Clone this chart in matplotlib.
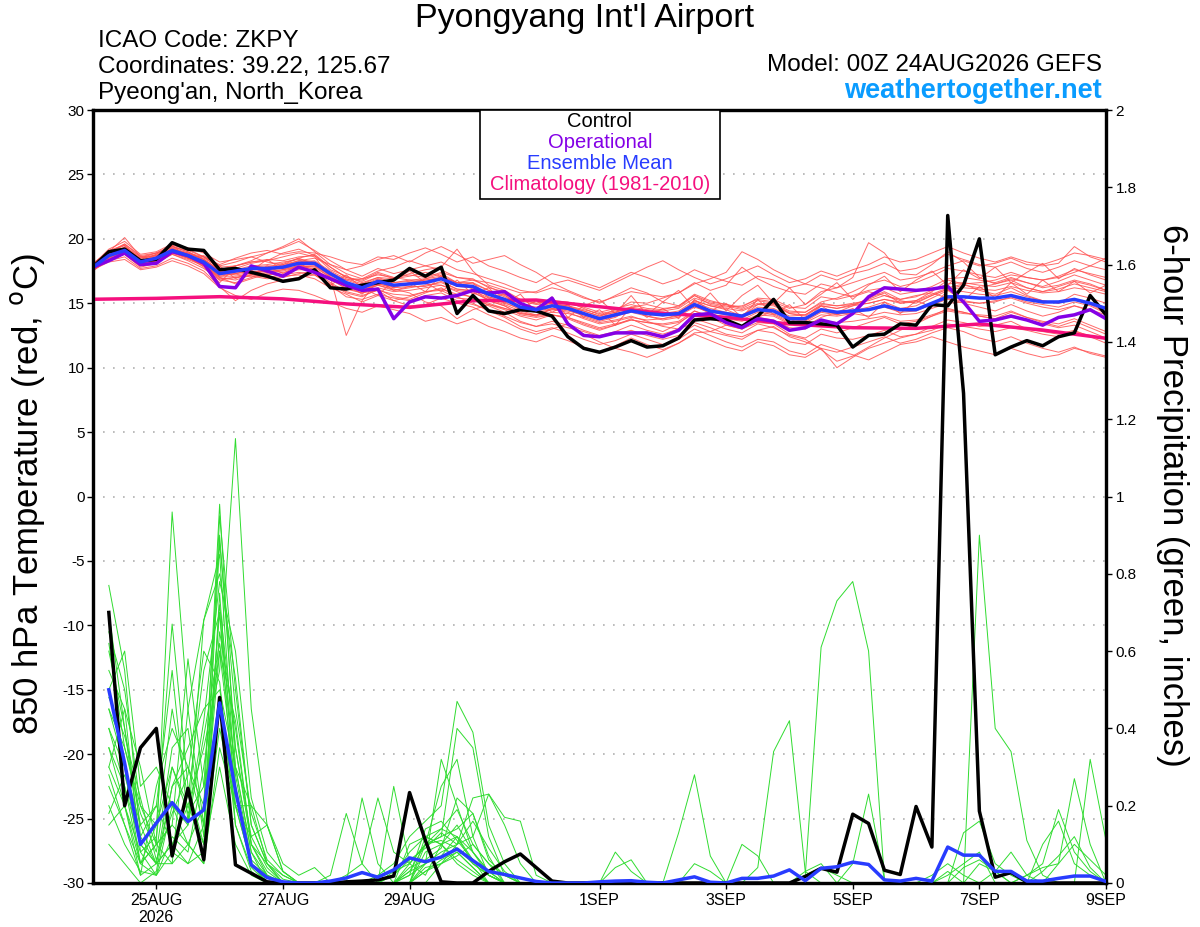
import numpy as np
import matplotlib
matplotlib.use('Agg')
import matplotlib.pyplot as plt
from matplotlib.patches import Rectangle

plt.rcParams['font.family'] = ['Liberation Sans', 'DejaVu Sans']
plt.rcParams['axes.unicode_minus'] = False

# time axis, hours since 00Z 24AUG2026
hours_t = np.arange(0, 385, 6)       # temperature (65 pts)
hours_p = np.arange(6, 385, 6)       # 6-h precip (64 pts)
hours_clim = np.arange(0, 385, 24)   # daily climatology

tick_hours = [24, 72, 120, 192, 240, 288, 336, 384]
tick_labels = ['25AUG\n2026', '27AUG', '29AUG', '1SEP', '3SEP', '5SEP', '7SEP', '9SEP']

# 850 hPa temperature (C)
control_t = [17.8, 19.0, 19.2, 18.3, 18.4, 19.7, 19.2, 19.1, 17.6, 17.7, 17.4, 17.1, 16.7,
             16.9, 17.6, 16.2, 16.1, 16.4, 16.6, 16.8, 17.7, 17.1, 17.8, 14.2, 15.6, 14.4,
             14.2, 14.5, 14.4, 14.0, 12.4, 11.5, 11.2, 11.6, 12.1, 11.6, 11.7, 12.3, 13.7,
             13.8, 13.7, 13.2, 14.0, 15.3, 13.5, 13.5, 13.4, 13.3, 11.6, 12.5, 12.6, 13.4,
             13.3, 14.9, 14.8, 16.4, 20.0, 11.0, 11.6, 12.1, 11.7, 12.4, 12.7, 15.6, 14.1]
oper_t = [17.8, 18.3, 18.9, 18.0, 18.1, 19.0, 18.7, 18.1, 16.3, 16.2, 17.9, 17.5, 17.1,
          17.8, 17.4, 16.9, 16.4, 16.0, 16.1, 13.8, 15.1, 15.5, 15.4, 15.6, 16.0, 15.8,
          15.9, 15.0, 14.5, 15.4, 13.4, 12.5, 12.4, 12.7, 12.7, 12.7, 12.4, 12.9, 14.1,
          14.2, 13.5, 13.1, 13.8, 13.6, 12.9, 13.1, 13.7, 13.4, 14.2, 15.5, 16.2, 16.1,
          16.0, 16.1, 16.3, 15.1, 13.6, 13.7, 14.0, 13.7, 13.3, 13.9, 14.1, 14.5, 13.8]
mean_t = [17.8, 18.7, 19.1, 18.2, 18.5, 19.1, 18.7, 18.2, 17.3, 17.5, 17.7, 17.7, 17.8,
          18.1, 18.1, 17.3, 16.6, 16.2, 16.7, 16.4, 16.5, 16.6, 16.9, 16.4, 16.3, 15.7,
          15.3, 14.7, 14.5, 14.8, 14.6, 14.2, 13.8, 14.1, 14.4, 14.2, 14.1, 14.2, 14.9,
          14.4, 14.2, 14.0, 14.5, 14.4, 13.8, 13.8, 14.5, 14.3, 14.4, 14.5, 14.8, 14.5,
          14.5, 15.0, 15.5, 15.5, 15.4, 15.4, 15.6, 15.3, 15.1, 15.1, 15.3, 15.0, 14.6]
climo_t = [15.31, 15.38, 15.51, 15.34, 14.95, 14.68, 15.2, 15.25, 14.73,
           14.22, 13.91, 13.39, 13.1, 13.05, 13.39, 12.92, 12.28]

member_t = [
    [18.0, 19.2, 19.8, 18.8, 19.0, 19.6, 19.3, 18.9, 18.2, 18.4, 18.6, 18.9, 19.3,
     19.8, 19.1, 18.3, 17.6, 17.1, 17.7, 17.3, 17.6, 17.9, 18.2, 17.6, 17.3, 16.9,
     16.5, 16.0, 15.8, 16.2, 15.9, 15.4, 15.1, 15.5, 15.9, 15.7, 15.5, 15.8, 16.6,
     16.0, 16.4, 17.8, 16.9, 16.3, 15.9, 15.7, 16.5, 16.2, 16.6, 17.0, 17.4, 16.8,
     17.0, 17.4, 17.9, 18.3, 17.9, 18.1, 18.5, 18.0, 17.9, 18.1, 19.4, 18.6, 18.2],
    [17.6, 18.3, 18.6, 17.7, 17.9, 18.5, 18.1, 17.5, 16.3, 15.2, 16.0, 16.5, 16.8,
     17.0, 17.2, 16.4, 15.5, 15.3, 15.7, 15.4, 15.2, 15.6, 15.8, 15.2, 14.9, 14.5,
     14.0, 13.5, 13.2, 13.4, 13.1, 12.8, 12.4, 12.6, 12.9, 12.5, 12.2, 12.5, 13.3,
     12.8, 12.5, 12.2, 12.9, 12.7, 12.0, 11.8, 12.6, 12.3, 12.2, 12.5, 12.9, 12.4,
     12.6, 13.2, 13.7, 13.5, 13.2, 13.3, 13.6, 13.0, 12.8, 12.6, 12.9, 12.4, 11.9],
    [17.9, 18.9, 19.5, 18.4, 18.8, 19.4, 19.0, 18.4, 17.6, 17.9, 18.2, 18.3, 18.6,
     18.9, 18.6, 17.0, 12.5, 15.2, 16.8, 16.0, 16.3, 16.9, 17.3, 16.6, 16.1, 15.2,
     14.8, 14.2, 14.0, 14.6, 14.5, 14.0, 13.6, 13.9, 14.6, 14.0, 13.7, 13.9, 15.2,
     14.8, 14.5, 14.0, 14.9, 15.0, 14.2, 14.0, 14.8, 14.6, 14.9, 15.3, 15.8, 15.0,
     15.2, 15.9, 16.8, 16.5, 16.0, 15.7, 16.2, 15.6, 15.2, 15.0, 15.7, 15.4, 15.0],
    [17.7, 18.5, 19.0, 18.3, 18.6, 19.2, 18.8, 18.0, 17.0, 16.8, 17.2, 17.6, 18.0,
     18.5, 18.8, 17.8, 17.0, 16.8, 17.4, 17.0, 17.2, 17.0, 17.4, 17.0, 16.9, 16.2,
     15.9, 15.2, 14.9, 15.0, 14.7, 14.4, 14.0, 14.5, 15.1, 15.0, 15.4, 15.8, 16.5,
     16.9, 17.4, 19.0, 18.4, 17.6, 17.0, 16.5, 16.2, 15.8, 15.5, 15.9, 15.6, 15.2,
     15.0, 15.6, 16.1, 16.4, 16.2, 16.5, 16.9, 16.6, 16.3, 16.7, 17.2, 16.8, 16.4],
    [17.5, 18.4, 18.8, 17.9, 18.2, 18.8, 18.4, 17.9, 16.9, 17.0, 17.1, 16.9, 17.0,
     17.3, 17.5, 16.6, 15.9, 15.6, 16.0, 15.7, 15.6, 15.9, 16.1, 15.7, 15.5, 14.8,
     14.3, 13.6, 13.2, 13.6, 13.3, 12.6, 12.0, 11.5, 11.2, 10.8, 11.3, 11.9, 12.7,
     12.8, 13.3, 13.0, 13.5, 13.4, 12.6, 12.3, 13.0, 12.7, 13.1, 13.5, 13.9, 13.4,
     13.6, 14.0, 14.4, 14.2, 14.1, 14.0, 14.4, 13.9, 13.6, 13.4, 13.8, 13.3, 12.8],
    [18.1, 19.0, 19.3, 18.5, 18.9, 19.3, 18.9, 18.4, 17.5, 17.7, 18.1, 18.3, 18.9,
     19.2, 18.7, 17.6, 17.1, 16.6, 17.0, 16.9, 17.1, 17.4, 17.1, 16.6, 16.8, 16.3,
     15.7, 15.3, 15.0, 15.2, 15.1, 14.6, 14.1, 14.3, 14.7, 14.9, 14.6, 14.7, 15.6,
     14.9, 14.7, 14.8, 15.3, 15.1, 14.6, 14.9, 15.9, 16.2, 17.0, 19.7, 18.9, 17.3,
     17.2, 18.0, 19.0, 18.2, 17.0, 16.5, 16.8, 16.2, 15.9, 16.3, 16.7, 16.4, 16.0],
    [17.8, 18.6, 19.0, 18.0, 18.3, 18.9, 18.5, 18.1, 17.2, 17.3, 17.5, 17.2, 17.4,
     17.6, 17.6, 16.9, 16.1, 15.8, 16.2, 15.9, 16.0, 16.2, 16.4, 16.0, 15.8, 15.3,
     14.9, 14.4, 14.1, 14.3, 14.2, 13.9, 13.5, 13.7, 14.0, 13.6, 13.2, 13.0, 13.5,
     13.1, 12.6, 12.4, 12.9, 13.2, 12.4, 12.0, 11.5, 10.0, 10.8, 11.5, 11.9, 12.3,
     12.6, 12.9, 13.4, 13.2, 13.0, 12.8, 13.1, 12.9, 12.6, 12.4, 12.8, 12.5, 12.2],
    [17.9, 18.8, 19.2, 18.3, 18.6, 19.0, 18.6, 18.3, 17.4, 17.6, 17.9, 18.0, 18.2,
     18.4, 18.2, 17.4, 16.8, 16.4, 16.9, 16.6, 16.8, 16.9, 17.1, 16.6, 16.5, 16.0,
     15.6, 15.0, 14.6, 14.9, 14.8, 14.5, 14.2, 14.4, 14.7, 14.5, 14.4, 14.6, 15.4,
     15.0, 14.8, 14.5, 15.0, 14.9, 14.3, 14.3, 15.0, 14.8, 14.9, 15.0, 15.3, 15.1,
     15.2, 15.7, 16.2, 16.5, 16.6, 16.8, 17.2, 17.0, 16.8, 17.0, 17.4, 17.9, 18.5],
    [17.6, 18.5, 19.4, 18.6, 18.7, 19.1, 18.8, 18.5, 17.8, 17.9, 18.3, 18.9, 19.4,
     20.0, 19.0, 18.0, 17.3, 16.9, 17.2, 17.0, 16.8, 16.5, 16.4, 15.9, 15.4, 15.0,
     14.6, 14.3, 14.0, 14.1, 13.9, 13.4, 13.0, 13.3, 13.7, 13.5, 13.4, 13.6, 14.4,
     14.0, 13.8, 13.6, 14.1, 14.0, 13.4, 13.5, 14.1, 14.0, 14.2, 14.5, 14.7, 14.3,
     14.4, 14.9, 15.3, 15.2, 15.0, 15.1, 15.5, 15.1, 14.9, 14.7, 15.1, 14.8, 14.2],
    [17.9, 19.0, 20.1, 18.6, 18.4, 19.0, 18.9, 18.6, 17.7, 17.6, 17.5, 17.4, 17.6,
     17.9, 17.9, 17.2, 16.5, 16.0, 16.5, 16.2, 16.3, 16.3, 16.7, 16.1, 16.0, 15.4,
     15.0, 14.6, 14.4, 14.6, 14.4, 14.1, 13.7, 14.0, 14.3, 14.0, 13.8, 14.1, 14.8,
     14.2, 13.9, 13.7, 14.3, 14.1, 13.5, 13.6, 14.3, 14.1, 14.4, 14.7, 15.1, 14.6,
     14.8, 15.4, 16.0, 15.9, 15.7, 15.6, 15.9, 15.5, 15.2, 15.0, 15.3, 14.9, 14.3],
    [17.7, 18.7, 19.0, 18.1, 18.4, 19.1, 18.6, 18.0, 16.8, 16.6, 17.0, 17.4, 17.5,
     17.8, 17.9, 17.0, 16.3, 16.0, 16.4, 16.1, 15.8, 15.1, 14.8, 13.8, 14.5, 14.9,
     14.6, 14.2, 14.1, 14.5, 14.3, 13.8, 13.4, 13.6, 13.9, 13.7, 13.8, 14.0, 14.7,
     14.3, 14.1, 13.9, 14.4, 14.2, 13.6, 13.7, 14.4, 14.2, 14.2, 14.0, 14.3, 14.1,
     14.2, 14.6, 15.0, 15.1, 15.0, 15.2, 15.4, 15.0, 14.7, 14.5, 14.8, 14.5, 14.1],
    [18.0, 18.8, 19.3, 18.3, 18.7, 19.2, 18.9, 18.4, 17.6, 17.9, 18.2, 18.4, 18.3,
     18.6, 18.7, 17.8, 17.0, 16.7, 17.3, 16.9, 17.3, 17.6, 17.8, 19.2, 17.5, 16.4,
     16.0, 15.3, 15.0, 15.2, 15.0, 14.7, 14.3, 14.6, 14.9, 14.6, 14.5, 14.8, 15.6,
     15.1, 14.9, 14.7, 15.4, 15.3, 14.7, 14.6, 15.5, 15.3, 15.6, 16.0, 16.2, 15.7,
     15.9, 16.3, 16.9, 17.0, 16.8, 16.6, 17.0, 16.6, 16.2, 16.4, 16.8, 16.5, 16.0],
    [17.7, 18.6, 19.0, 18.0, 18.3, 18.9, 18.5, 18.0, 17.1, 17.3, 17.6, 17.6, 17.7,
     17.9, 17.8, 17.0, 16.3, 15.9, 16.4, 16.0, 16.2, 16.4, 16.6, 16.1, 15.9, 15.2,
     14.8, 14.1, 13.9, 14.1, 13.9, 13.5, 13.1, 13.4, 13.7, 13.5, 13.3, 13.5, 14.2,
     13.8, 13.5, 13.2, 13.9, 13.7, 13.1, 13.0, 13.7, 13.5, 13.6, 13.8, 14.0, 13.6,
     13.7, 14.1, 14.5, 14.3, 14.0, 13.8, 14.1, 13.7, 13.4, 13.1, 13.3, 12.8, 12.3],
    [17.8, 18.7, 19.1, 18.2, 18.6, 19.2, 18.8, 18.2, 17.3, 17.4, 17.8, 17.9, 17.9,
     18.2, 18.3, 17.5, 16.9, 16.5, 17.0, 16.6, 16.7, 16.8, 17.0, 16.6, 16.6, 16.0,
     15.5, 14.9, 14.7, 15.0, 14.8, 14.4, 14.0, 14.3, 14.6, 14.4, 14.2, 14.4, 15.2,
     14.8, 14.6, 14.4, 14.9, 14.8, 14.2, 14.1, 14.8, 14.6, 14.8, 15.0, 15.3, 15.0,
     15.1, 15.6, 16.1, 16.2, 16.1, 16.0, 16.3, 16.0, 15.8, 15.9, 16.2, 16.0, 15.7],
    [17.6, 18.4, 18.9, 18.0, 18.5, 19.3, 18.6, 17.8, 16.6, 17.8, 17.2, 17.9, 17.3,
     18.0, 17.6, 16.8, 16.5, 15.7, 16.9, 16.2, 16.6, 15.9, 17.2, 16.3, 16.6, 15.4,
     15.7, 14.6, 15.2, 14.3, 14.9, 13.9, 14.5, 13.3, 14.7, 13.9, 14.6, 13.8, 15.3,
     14.4, 15.0, 13.9, 15.3, 14.1, 14.9, 13.7, 14.8, 14.1, 14.6, 13.9, 15.1, 14.2,
     15.2, 14.7, 16.0, 15.2, 16.3, 15.4, 16.6, 15.7, 16.8, 15.9, 16.7, 15.8, 16.4],
    [17.8, 18.6, 19.2, 18.1, 18.4, 19.0, 18.7, 18.1, 17.4, 17.2, 17.4, 17.6, 17.9,
     18.3, 18.0, 17.1, 16.4, 16.1, 16.5, 16.3, 16.6, 16.8, 16.9, 16.3, 16.2, 15.5,
     15.1, 14.5, 14.3, 14.5, 14.6, 14.2, 13.9, 14.2, 14.5, 14.3, 14.0, 14.3, 15.1,
     14.6, 14.3, 14.1, 14.7, 14.6, 14.0, 14.1, 14.9, 14.8, 15.0, 15.2, 15.6, 15.3,
     15.5, 16.0, 16.5, 16.6, 16.4, 16.3, 16.6, 16.2, 15.9, 16.1, 16.5, 16.2, 15.9],
    [17.9, 18.9, 19.6, 18.7, 18.9, 19.4, 19.1, 18.6, 18.0, 18.5, 18.9, 19.1, 18.8,
     19.0, 18.9, 18.6, 18.2, 18.0, 18.6, 18.4, 18.9, 19.3, 18.8, 18.2, 18.6, 17.9,
     17.5, 17.0, 16.6, 17.3, 17.0, 16.6, 16.2, 16.8, 17.4, 17.0, 16.5, 16.9, 17.6,
     17.1, 16.7, 16.4, 17.1, 16.8, 16.2, 16.5, 17.2, 16.8, 17.3, 17.6, 18.1, 17.5,
     17.7, 18.2, 18.8, 18.4, 18.0, 17.8, 18.2, 17.7, 17.4, 17.8, 18.3, 17.9, 17.6],
    [17.6, 18.2, 18.4, 17.6, 17.8, 18.3, 17.9, 17.3, 16.2, 15.6, 15.3, 15.8, 16.1,
     16.0, 15.6, 15.1, 14.6, 14.3, 14.8, 14.5, 14.2, 13.6, 13.9, 13.4, 13.8, 13.2,
     12.8, 12.3, 12.0, 12.5, 12.1, 11.6, 11.2, 11.7, 12.3, 11.8, 11.4, 11.9, 12.6,
     12.1, 11.6, 11.3, 12.0, 11.7, 11.0, 10.8, 11.5, 11.2, 11.6, 12.0, 12.4, 11.9,
     12.2, 12.7, 13.1, 12.8, 12.3, 12.0, 12.4, 11.9, 11.5, 11.2, 11.6, 11.1, 10.8],
    [17.8, 18.8, 19.3, 18.5, 18.7, 19.4, 19.0, 18.3, 17.5, 17.3, 17.6, 17.8, 18.1,
     18.5, 18.0, 17.2, 16.8, 16.9, 17.5, 17.8, 18.3, 17.9, 17.6, 17.0, 16.8, 16.6,
     16.2, 15.8, 15.9, 16.5, 16.8, 16.4, 16.0, 16.6, 17.2, 17.8, 18.3, 17.6, 17.0,
     16.5, 16.9, 17.4, 17.9, 17.2, 16.6, 16.9, 17.5, 17.1, 17.6, 18.0, 18.6, 18.2,
     18.4, 18.9, 19.4, 18.9, 18.5, 18.2, 18.6, 18.2, 18.0, 18.4, 18.9, 18.7, 18.4],
    [17.7, 18.5, 18.8, 17.8, 18.1, 18.8, 18.3, 17.7, 16.8, 17.0, 17.2, 17.0, 17.2,
     17.4, 17.2, 16.5, 15.8, 15.5, 16.1, 15.5, 15.3, 15.8, 16.2, 15.5, 15.0, 14.4,
     13.9, 13.2, 12.8, 13.1, 12.7, 12.2, 11.8, 12.1, 12.6, 12.2, 11.8, 12.2, 13.0,
     12.5, 12.0, 11.6, 12.2, 12.0, 11.3, 11.0, 11.8, 11.4, 11.0, 10.6, 11.2, 11.8,
     12.0, 12.4, 12.0, 11.6, 11.3, 11.0, 11.5, 11.1, 10.8, 11.0, 11.5, 11.2, 10.9],
    [18.0, 19.1, 19.5, 18.2, 18.8, 19.5, 18.5, 18.7, 17.9, 16.9, 17.5, 18.4, 17.6,
     18.2, 17.3, 16.4, 17.2, 16.2, 15.6, 16.8, 17.5, 16.6, 15.9, 16.8, 15.7, 16.2,
     15.0, 15.7, 14.3, 15.5, 13.9, 14.8, 15.3, 14.2, 15.6, 14.1, 15.1, 16.0, 14.6,
     15.8, 14.4, 15.6, 16.4, 15.0, 16.2, 14.9, 15.7, 16.6, 15.3, 16.4, 17.1, 15.9,
     16.8, 17.5, 16.4, 17.6, 16.9, 17.8, 16.6, 17.4, 18.1, 16.9, 17.7, 17.2, 16.8],
    [17.8, 18.6, 19.0, 18.1, 18.3, 19.0, 18.6, 18.0, 17.1, 17.1, 17.3, 17.5, 17.6,
     17.8, 17.7, 16.8, 16.2, 15.8, 16.0, 15.2, 14.8, 14.9, 15.4, 15.0, 14.7, 14.1,
     13.6, 13.0, 12.6, 13.0, 13.4, 12.9, 12.5, 12.8, 13.3, 12.9, 12.6, 13.0, 13.8,
     13.4, 13.0, 12.7, 13.4, 13.1, 12.5, 12.2, 11.4, 10.5, 10.9, 11.6, 12.3, 12.9,
     13.4, 14.0, 14.6, 14.3, 14.0, 13.8, 14.3, 13.9, 13.5, 13.2, 13.6, 13.1, 12.6],
    [18.1, 19.0, 19.6, 18.6, 18.9, 19.5, 19.2, 18.6, 17.9, 18.2, 18.6, 18.2, 18.0,
     18.3, 18.5, 18.0, 17.6, 17.9, 18.4, 18.7, 18.2, 18.9, 19.4, 18.8, 18.1, 18.4,
     18.7, 18.0, 17.4, 16.6, 16.0, 15.5, 15.0, 15.6, 16.2, 15.8, 15.1, 14.8, 15.7,
     15.2, 14.9, 14.6, 15.2, 15.0, 14.4, 14.3, 15.1, 15.4, 15.9, 16.5, 16.8, 16.3,
     16.6, 17.1, 17.7, 17.5, 17.2, 17.0, 17.4, 17.0, 16.8, 17.1, 17.6, 17.3, 17.0],
    [17.7, 18.6, 19.1, 18.2, 18.4, 19.0, 18.5, 17.9, 17.0, 16.5, 16.9, 17.3, 17.1,
     17.2, 16.9, 16.2, 15.7, 15.1, 15.6, 15.2, 15.5, 15.9, 16.0, 15.4, 15.3, 14.9,
     14.5, 14.0, 13.7, 14.1, 13.8, 13.3, 12.9, 13.3, 13.8, 13.2, 12.8, 13.4, 14.4,
     13.9, 13.3, 13.0, 13.9, 14.4, 13.8, 13.2, 13.9, 14.3, 14.8, 15.4, 15.9, 15.3,
     15.6, 15.8, 15.4, 15.0, 14.7, 14.4, 14.9, 14.4, 14.0, 14.3, 14.8, 14.4, 13.9],
]

# 6-hour precipitation (inches)
control_p = [0.70, 0.20, 0.35, 0.40, 0.07, 0.245, 0.06, 0.48, 0.047, 0.025, 0.003, 0, 0, 0, 0, 0.003,
             0.005, 0.008, 0.018, 0.234, 0.11, 0.003, 0, 0, 0.03, 0.055, 0.075, 0.04, 0.005, 0, 0, 0,
             0, 0, 0, 0, 0, 0, 0, 0, 0, 0, 0, 0, 0.017, 0.038, 0.028, 0.178,
             0.154, 0.033, 0.022, 0.198, 0.093, 1.727, 1.267, 0.186, 0.015, 0.027, 0.003, 0, 0, 0, 0, 0]
mean_p = [0.50, 0.31, 0.10, 0.155, 0.208, 0.159, 0.189, 0.466, 0.24, 0.047, 0.014, 0.003, 0, 0, 0.005, 0.013,
          0.027, 0.015, 0.034, 0.065, 0.055, 0.067, 0.088, 0.058, 0.03, 0.022, 0.013, 0.004, 0, 0, 0, 0.003,
          0.005, 0.006, 0.002, 0, 0.008, 0.016, 0.002, 0, 0.012, 0.012, 0.018, 0.034, 0.006, 0.038, 0.042, 0.054,
          0.048, 0.008, 0.005, 0.012, 0.005, 0.093, 0.072, 0.072, 0.03, 0.03, 0.005, 0.005, 0.012, 0.018, 0.018, 0.004]

member_p = [
    [.77, .55, .12, .05, .30, .18, .25, .90, .35, .10, .03, 0, 0, 0, 0, 0,
     0, 0, .02, .08, .12, .10, .06, .03, 0, 0, 0, 0, 0, 0, 0, 0,
     0, 0, 0, 0, 0, 0, 0, 0, 0, 0, 0, 0, 0, 0, 0, 0,
     0, 0, 0, 0, 0, 0, 0, .90, .40, .34, .11, .02, 0, 0, 0, 0],
    [.40, .30, .05, .10, .96, .45, .15, .60, .25, .05, 0, 0, 0, 0, 0, 0,
     0, 0, 0, .03, .10, .14, .12, .05, .02, 0, 0, 0, 0, 0, 0, 0,
     0, 0, 0, 0, 0, 0, 0, 0, 0, 0, 0, 0, .02, .61, .73, .78,
     .60, .01, 0, 0, 0, 0, 0, 0, 0, 0, 0, 0, 0, 0, 0, 0],
    [.55, .45, .08, .02, .20, .15, .68, .80, .53, .15, .05, .01, 0, 0, 0, 0,
     0, .02, .05, .12, .16, .20, .47, .39, .15, .05, 0, 0, 0, 0, 0, 0,
     0, 0, 0, 0, 0, 0, 0, 0, 0, .04, .34, .42, .03, 0, 0, 0,
     0, 0, 0, 0, .02, .05, .02, 0, 0, 0, 0, 0, 0, 0, 0, 0],
    [.30, .20, .02, .25, .40, .30, .20, .98, .30, .08, .02, 0, 0, 0, 0, .02,
     .05, .22, .08, .05, .10, .25, .32, .12, .02, 0, 0, 0, 0, 0, 0, 0,
     0, 0, 0, 0, 0, 0, 0, 0, 0, 0, 0, 0, 0, 0, 0, 0,
     0, 0, 0, 0, 0, 0, .13, .16, .05, .02, 0, 0, .05, .27, .10, 0],
    [.60, .40, .15, .05, .10, .20, .35, .55, 1.15, .45, .15, .03, 0, 0, 0, 0,
     0, 0, 0, .05, .10, .12, .40, .35, .12, .02, 0, 0, 0, 0, 0, 0,
     0, 0, 0, 0, .13, .28, .07, 0, 0, 0, 0, 0, 0, 0, 0, 0,
     0, 0, 0, 0, 0, 0, 0, 0, 0, 0, 0, 0, 0, 0, 0, 0],
    [.25, .15, .05, .10, .15, .10, .05, .75, .20, .05, 0, 0, 0, 0, .02, .18,
     .05, 0, 0, 0, .05, .08, .10, .12, .23, .15, .05, 0, 0, 0, 0, 0,
     .08, .03, 0, 0, 0, 0, 0, 0, 0, 0, 0, 0, 0, 0, 0, 0,
     0, 0, 0, 0, 0, 0, 0, 0, 0, 0, .02, .05, .19, .08, .03, 0],
    [.45, .35, .20, .15, .67, .25, .10, .40, .20, .20, .15, .03, 0, 0, 0, 0,
     .22, .05, 0, 0, .03, .06, .08, .04, 0, 0, 0, 0, 0, 0, 0, 0,
     0, 0, 0, 0, 0, 0, 0, 0, .10, .07, 0, 0, 0, 0, 0, 0,
     0, 0, 0, 0, 0, 0, 0, 0, 0, 0, 0, 0, 0, 0, .32, .11],
    [.35, .25, .10, .05, .05, .45, .68, .85, .25, .05, 0, 0, 0, 0, 0, 0,
     0, 0, .25, .05, .02, .10, .15, .08, .03, 0, 0, 0, 0, 0, 0, 0,
     0, 0, 0, 0, 0, 0, 0, 0, 0, 0, 0, 0, 0, 0, 0, .05,
     .23, .01, 0, 0, 0, 0, 0, 0, 0, 0, 0, 0, 0, 0, 0, 0],
    [.20, .10, .03, .02, .08, .05, .15, .65, .40, .10, .05, 0, 0, 0, 0, 0,
     0, 0, 0, .10, .12, .14, .19, .10, .05, .02, 0, 0, 0, 0, 0, 0,
     0, 0, 0, 0, 0, 0, 0, 0, 0, 0, 0, 0, 0, 0, 0, 0,
     0, 0, 0, 0, 0, 0, 0, 0, 0, 0, .02, .04, .05, .10, .06, .02],
    [.50, .60, .25, .30, .20, .10, .20, .70, .15, .03, 0, 0, 0, 0, 0, 0,
     0, 0, 0, .02, .05, .32, .20, .08, .03, 0, 0, 0, 0, 0, 0, 0,
     0, 0, 0, 0, 0, 0, 0, 0, 0, 0, 0, 0, 0, 0, 0, 0,
     0, 0, 0, 0, 0, 0, 0, 0, .03, .08, .02, 0, 0, 0, 0, 0],
    [.70, .40, .10, .05, .25, .35, .45, .50, .30, .20, .05, 0, 0, 0, 0, 0,
     0, 0, 0, 0, .10, .12, .14, .18, .07, 0, 0, 0, 0, 0, 0, 0,
     0, 0, 0, 0, 0, 0, 0, 0, 0, 0, 0, 0, .02, .04, .02, 0,
     0, 0, 0, 0, 0, .03, 0, 0, 0, 0, 0, 0, 0, 0, 0, 0],
    [.15, .20, .05, .02, .12, .08, .30, .60, .42, .10, .02, 0, 0, 0, 0, 0,
     0, 0, 0, 0, 0, .05, .10, .22, .23, .17, .16, .02, 0, 0, 0, 0,
     0, 0, 0, 0, 0, 0, 0, 0, 0, 0, 0, 0, 0, 0, 0, 0,
     0, 0, 0, 0, 0, 0, 0, 0, 0, 0, 0, 0, 0, 0, 0, 0],
    [.30, .45, .30, .10, .05, .10, .05, .35, .20, .12, .04, 0, 0, 0, 0, 0,
     0, 0, 0, 0, .08, .10, .05, .02, 0, 0, 0, 0, 0, 0, 0, 0,
     .04, .06, 0, 0, 0, 0, 0, 0, 0, 0, 0, 0, 0, 0, 0, 0,
     0, 0, 0, 0, 0, 0, 0, 0, 0, 0, 0, 0, 0, 0, 0, 0],
    [.40, .25, .05, .15, .30, .20, .10, .95, .50, .15, .05, .02, 0, 0, 0, 0,
     0, 0, 0, 0, .12, .10, .12, .08, .02, 0, 0, 0, 0, 0, 0, 0,
     0, 0, 0, 0, 0, 0, 0, 0, 0, 0, 0, 0, .03, .05, 0, 0,
     0, 0, 0, 0, 0, .02, .05, .08, 0, 0, 0, 0, 0, 0, 0, 0],
    [.28, .15, .02, .05, .10, .05, .08, .30, .10, .02, 0, 0, 0, 0, 0, 0,
     0, 0, 0, 0, 0, 0, 0, 0, 0, 0, 0, 0, 0, 0, 0, 0,
     0, 0, 0, 0, 0, 0, 0, 0, 0, 0, 0, 0, 0, 0, 0, 0,
     0, 0, 0, 0, 0, 0, 0, 0, 0, 0, 0, .10, .16, .05, .02, 0],
    [.65, .50, .20, .10, .15, .58, .25, .45, .20, .05, .02, 0, 0, 0, 0, 0,
     0, 0, 0, .03, .05, .07, .12, .06, 0, 0, 0, 0, 0, 0, 0, 0,
     0, 0, 0, 0, 0, 0, 0, 0, 0, 0, 0, 0, 0, 0, 0, 0,
     0, 0, 0, 0, 0, 0, 0, 0, 0, 0, 0, 0, 0, 0, 0, 0],
    [.45, .30, .15, .20, .10, .15, .38, .62, .30, .08, 0, 0, 0, 0, 0, 0,
     0, 0, 0, 0, .04, .05, .08, .04, 0, 0, 0, 0, 0, 0, 0, 0,
     0, 0, 0, 0, 0, 0, 0, 0, 0, 0, 0, 0, 0, 0, 0, 0,
     0, 0, 0, 0, 0, 0, 0, .05, .03, 0, 0, 0, 0, 0, 0, 0],
    [.10, .05, 0, .03, .25, .30, .15, .72, .35, .12, .15, .05, .02, .04, 0, 0,
     0, 0, .03, .05, .10, .11, .09, .05, .02, 0, 0, 0, 0, 0, 0, 0,
     0, 0, 0, 0, 0, 0, 0, 0, 0, 0, 0, 0, 0, 0, 0, 0,
     0, 0, 0, 0, 0, 0, 0, 0, 0, 0, 0, 0, 0, 0, 0, 0],
    [.35, .20, .08, .12, .45, .22, .55, .70, .28, .06, .02, 0, 0, 0, 0, 0,
     0, 0, 0, .04, .06, .09, .22, .18, .06, .02, 0, 0, 0, 0, 0, 0,
     0, 0, 0, 0, 0, 0, 0, 0, 0, 0, 0, 0, 0, 0, 0, 0,
     0, 0, 0, 0, 0, 0, .04, .06, .03, 0, 0, 0, 0, 0, 0, 0],
    [.62, .35, .18, .08, .35, .40, .12, .88, .45, .18, .06, .02, 0, 0, 0, 0,
     0, 0, .02, .06, .09, .13, .10, .16, .09, .03, 0, 0, 0, 0, 0, 0,
     0, 0, 0, 0, 0, .05, .03, 0, 0, 0, 0, 0, 0, 0, 0, 0,
     0, 0, 0, 0, 0, 0, 0, 0, 0, 0, 0, 0, 0, 0, 0, 0],
    [.48, .38, .22, .06, .18, .28, .60, .52, .15, .04, 0, 0, 0, 0, 0, 0,
     0, 0, 0, .02, .14, .16, .11, .06, .02, 0, 0, 0, 0, 0, 0, 0,
     0, 0, 0, 0, 0, 0, 0, 0, 0, 0, 0, 0, 0, 0, 0, 0,
     0, 0, 0, 0, 0, 0, 0, 0, 0, 0, 0, .03, .07, .12, .04, 0],
    [.18, .28, .12, .20, .55, .16, .42, .78, .60, .22, .08, .03, 0, 0, 0, 0,
     0, 0, 0, 0, .03, .05, .07, .10, .05, 0, 0, 0, 0, 0, 0, 0,
     0, 0, 0, 0, 0, 0, 0, 0, 0, 0, 0, 0, 0, 0, 0, 0,
     0, 0, 0, 0, 0, 0, 0, 0, 0, 0, 0, 0, 0, 0, 0, 0],
]

c_red = '#ff5050'
c_green = '#30dc30'
c_purple = '#8400e6'
c_blue = '#283cff'
c_pink = '#f5107e'

fig = plt.figure(figsize=(12, 9.27), dpi=100)
ax = fig.add_axes([93/1200, 44/927, 1013/1200, 773/927])
ax2 = ax.twinx()

# temperature (left axis)
for m in member_t:
    ax.plot(hours_t, m, color=c_red, lw=0.7, alpha=0.85, zorder=2)
ax.plot(hours_clim, climo_t, color=c_pink, lw=2.5, zorder=3)
ax.plot(hours_t, control_t, color='black', lw=2.5, zorder=4)
ax.plot(hours_t, oper_t, color=c_purple, lw=2.5, zorder=5)
ax.plot(hours_t, mean_t, color=c_blue, lw=2.5, zorder=6)

# precipitation (right axis)
for m in member_p:
    ax2.plot(hours_p, m, color=c_green, lw=0.7, zorder=2)
ax2.plot(hours_p, control_p, color='black', lw=2.5, zorder=4)
ax2.plot(hours_p, mean_p, color=c_blue, lw=2.5, zorder=5)

ax.set_xlim(0, 384)
ax.set_ylim(-30, 30)
ax2.set_ylim(0, 2)

yt = list(range(-30, 31, 5))
ax.set_yticks(yt, [str(v) for v in yt])
pt = np.round(np.arange(0, 2.01, 0.2), 1)
ax2.set_yticks(pt, [f'{v:g}' for v in pt])
ax.set_xticks(tick_hours, tick_labels)

ax.yaxis.grid(True, linestyle=(0, (1, 5)), color='#b0b0b0', lw=1.2)
ax.set_axisbelow(True)

ax.tick_params(axis='y', direction='out', length=4, width=1, labelsize=11, pad=2)
ax.tick_params(axis='x', direction='out', length=4, width=1, labelsize=11.5, pad=3)
ax2.tick_params(axis='y', direction='out', length=4, width=1, labelsize=11, pad=3)
for a in (ax, ax2):
    for s in a.spines.values():
        s.set_linewidth(2.3)

# titles and info
fig.text(585/1200, 1 - 27/927, "Pyongyang Int'l Airport", ha='center', va='baseline', fontsize=24.5)
fig.text(98/1200, 1 - 47/927, 'ICAO Code: ZKPY', ha='left', va='baseline', fontsize=17.5)
fig.text(98/1200, 1 - 73/927, 'Coordinates: 39.22, 125.67', ha='left', va='baseline', fontsize=17.5)
fig.text(98/1200, 1 - 99/927, "Pyeong'an, North_Korea", ha='left', va='baseline', fontsize=17.5)
fig.text(1102/1200, 1 - 71/927, 'Model: 00Z 24AUG2026 GEFS', ha='right', va='baseline', fontsize=17.5)
fig.text(1102/1200, 1 - 98/927, 'weathertogether.net', ha='right', va='baseline',
         fontsize=19.5, fontweight='bold', color='#0a9cff')

fig.text(28/1200, 1 - 494/927, r'850 hPa Temperature (red, $^{\rm o}$C)', rotation=90,
         ha='center', va='center', fontsize=25)
fig.text(1172/1200, 1 - 495/927, '6-hour Precipitation (green, inches)', rotation=270,
         ha='center', va='center', fontsize=25)

# legend box
fig.patches.append(Rectangle((480/1200, 1 - 199/927), 240/1200, 89/927, transform=fig.transFigure,
                             fill=True, facecolor='white', edgecolor='black', lw=1.2, zorder=10))
leg_items = [('Control', 'black', 127), ('Operational', c_purple, 148),
             ('Ensemble Mean', c_blue, 169), ('Climatology (1981-2010)', c_pink, 190)]
for txt, col, yb in leg_items:
    fig.text(600/1200, 1 - yb/927, txt, ha='center', va='baseline', fontsize=14.5, color=col, zorder=11)

fig.savefig('out.png', dpi=100)
